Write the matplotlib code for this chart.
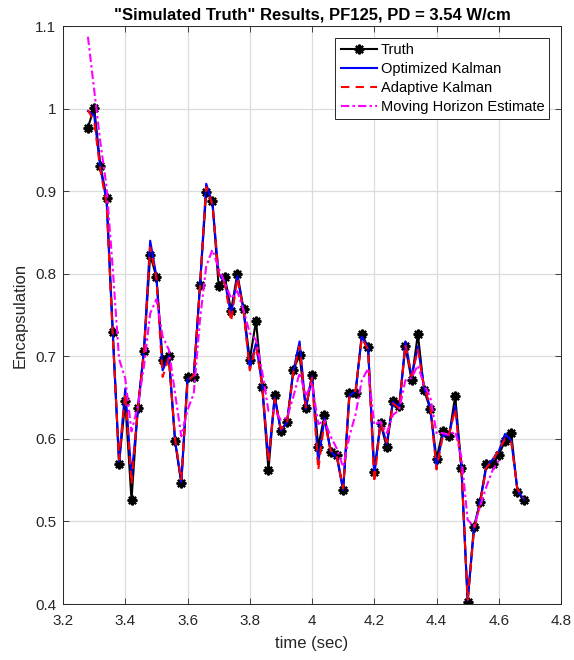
import numpy as np
import matplotlib
matplotlib.use("Agg")
import matplotlib.pyplot as plt

plt.rcParams["font.family"] = ["Liberation Sans", "DejaVu Sans"]

# sample times, 0.02 s step
time = np.round(np.arange(3.28, 4.681, 0.02), 2)

truth = [0.977, 1.001, 0.931, 0.892, 0.729, 0.570, 0.646, 0.526, 0.637, 0.706,
         0.823, 0.796, 0.695, 0.700, 0.597, 0.546, 0.675, 0.675, 0.786, 0.899,
         0.888, 0.785, 0.796, 0.755, 0.800, 0.757, 0.696, 0.743, 0.663, 0.562,
         0.653, 0.609, 0.621, 0.684, 0.701, 0.637, 0.677, 0.590, 0.629, 0.584,
         0.580, 0.538, 0.656, 0.656, 0.727, 0.711, 0.560, 0.619, 0.590, 0.646,
         0.640, 0.712, 0.671, 0.727, 0.659, 0.636, 0.576, 0.609, 0.603, 0.652,
         0.565, 0.403, 0.493, 0.524, 0.569, 0.569, 0.581, 0.597, 0.607, 0.536,
         0.526]

opt_kalman = [0.997, 0.992, 0.928, 0.888, 0.725, 0.573, 0.661, 0.555, 0.632, 0.708,
              0.840, 0.797, 0.683, 0.700, 0.598, 0.548, 0.672, 0.676, 0.785, 0.909,
              0.885, 0.800, 0.790, 0.750, 0.797, 0.756, 0.686, 0.716, 0.664, 0.575,
              0.650, 0.610, 0.620, 0.682, 0.718, 0.636, 0.676, 0.571, 0.625, 0.585,
              0.577, 0.538, 0.652, 0.658, 0.724, 0.711, 0.555, 0.621, 0.594, 0.645,
              0.638, 0.718, 0.675, 0.712, 0.662, 0.638, 0.567, 0.605, 0.604, 0.640,
              0.565, 0.404, 0.490, 0.524, 0.566, 0.575, 0.585, 0.606, 0.598, 0.538,
              0.527]

adapt_kalman = [0.998, 0.985, 0.925, 0.885, 0.722, 0.575, 0.655, 0.545, 0.635, 0.705,
                0.832, 0.795, 0.675, 0.698, 0.600, 0.550, 0.670, 0.677, 0.784, 0.905,
                0.884, 0.798, 0.788, 0.742, 0.795, 0.755, 0.683, 0.712, 0.665, 0.572,
                0.648, 0.612, 0.619, 0.680, 0.712, 0.638, 0.674, 0.562, 0.622, 0.586,
                0.578, 0.540, 0.650, 0.659, 0.722, 0.708, 0.547, 0.620, 0.596, 0.643,
                0.637, 0.714, 0.676, 0.708, 0.663, 0.640, 0.563, 0.603, 0.605, 0.636,
                0.566, 0.405, 0.488, 0.522, 0.565, 0.574, 0.586, 0.600, 0.597, 0.539,
                0.528]

# moving horizon estimate stops at 4.60 s
mhe = [1.087, 1.023, 0.959, 0.905, 0.805, 0.697, 0.673, 0.609, 0.639, 0.688,
       0.752, 0.769, 0.724, 0.708, 0.655, 0.603, 0.635, 0.655, 0.744, 0.809,
       0.829, 0.807, 0.789, 0.770, 0.779, 0.756, 0.728, 0.720, 0.681, 0.634,
       0.634, 0.623, 0.626, 0.651, 0.680, 0.652, 0.668, 0.618, 0.622, 0.603,
       0.588, 0.566, 0.603, 0.630, 0.671, 0.685, 0.617, 0.621, 0.607, 0.629,
       0.635, 0.671, 0.674, 0.689, 0.665, 0.651, 0.607, 0.607, 0.605, 0.609,
       0.578, 0.502, 0.494, 0.518, 0.542, 0.562, 0.574]

xticks = [3.2, 3.4, 3.6, 3.8, 4.0, 4.2, 4.4, 4.6, 4.8]
xticklabels = ["3.2", "3.4", "3.6", "3.8", "4", "4.2", "4.4", "4.6", "4.8"]
yticks = [0.4, 0.5, 0.6, 0.7, 0.8, 0.9, 1.0, 1.1]
yticklabels = ["0.4", "0.5", "0.6", "0.7", "0.8", "0.9", "1", "1.1"]

fig = plt.figure(figsize=(5.74, 6.6), dpi=100)
ax = fig.add_axes([0.1098, 0.0848, 0.8676, 0.8758])

ax.plot(time, truth, color="black", lw=1.5, marker=(8, 2, 0), ms=7, mew=1.6,
        label="Truth", zorder=2)
ax.plot(time, opt_kalman, color="blue", lw=1.5, label="Optimized Kalman", zorder=3)
ax.plot(time, adapt_kalman, color="red", lw=1.5, ls=(0, (4, 3)),
        label="Adaptive Kalman", zorder=4)
ax.plot(time[:len(mhe)], mhe, color="magenta", lw=1.5, ls=(0, (4, 1.5, 1.2, 1.5)),
        label="Moving Horizon Estimate", zorder=5)

ax.set_xlim(3.2, 4.8)
ax.set_ylim(0.4, 1.1)
ax.set_xticks(xticks)
ax.set_xticklabels(xticklabels)
ax.set_yticks(yticks)
ax.set_yticklabels(yticklabels)
ax.tick_params(direction="in", length=4, labelsize=11, colors="#262626",
               top=True, right=True, width=0.6)
ax.tick_params(axis="x", pad=7)
ax.tick_params(axis="y", pad=5)
ax.grid(True, color="#dcdcdc", lw=0.9)
ax.set_axisbelow(True)
for s in ax.spines.values():
    s.set_color("#262626")
    s.set_linewidth(0.7)

ax.set_xlabel("time (sec)", fontsize=12, color="#262626", labelpad=6)
ax.set_ylabel("Encapsulation", fontsize=12, color="#262626", labelpad=5)
ax.set_title('"Simulated Truth" Results, PF125, PD = 3.54 W/cm',
             fontsize=12, fontweight="bold", pad=5)

leg = ax.legend(loc="upper right", fontsize=10.5, fancybox=False, framealpha=1,
                edgecolor="#262626", handlelength=2.5, borderpad=0.35,
                labelspacing=0.35, handletextpad=0.25, borderaxespad=0.8)
leg.get_frame().set_linewidth(0.7)

fig.savefig("out.png", dpi=100)
